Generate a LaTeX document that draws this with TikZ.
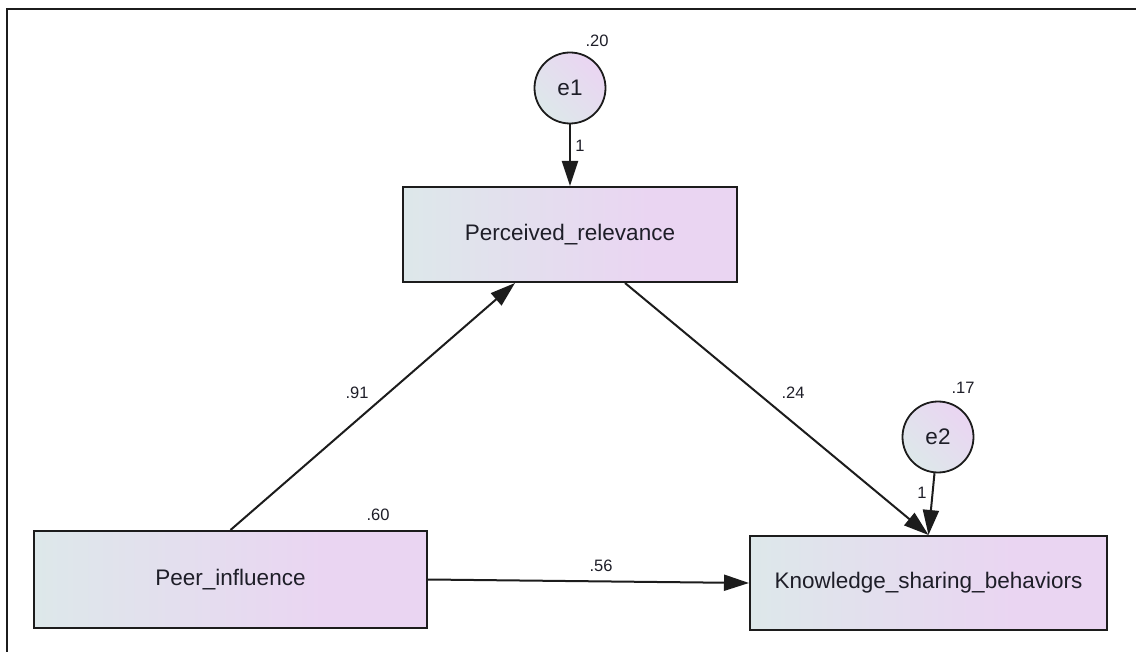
\documentclass[tikz,border=0pt]{standalone}
\usepackage{fontspec}
\setmainfont{Liberation Sans}
\usetikzlibrary{arrows.meta}

\definecolor{shadeL}{RGB}{221,232,234}
\definecolor{shadeR}{RGB}{234,213,242}
\definecolor{inkline}{RGB}{28,28,28}
\definecolor{inktext}{RGB}{30,30,40}

% light blue-grey on the left fading into lavender
\pgfdeclarehorizontalshading{varshade}{100bp}{color(0bp)=(shadeL); color(25bp)=(shadeL); color(62bp)=(shadeR); color(100bp)=(shadeR)}

\tikzset{
  observed/.style={draw=inkline, line width=2pt, shading=varshade,
    rectangle, inner sep=0pt, font=\fontsize{22.5}{26}\selectfont, text=inktext},
  errvar/.style={draw=inkline, line width=1.8pt, circle, inner sep=0pt,
    minimum size=71pt, left color=shadeL, right color=shadeR, shading angle=135,
    font=\fontsize{22.5}{26}\selectfont, text=inktext},
  path/.style={draw=inkline, line width=2pt,
    -{Triangle[length=25pt,width=16pt]}},
  estimate/.style={font=\fontsize{16.5}{19}\selectfont, text=inktext, inner sep=0pt},
}

\begin{document}
\begin{tikzpicture}[x=1pt, y=-1pt]
\useasboundingbox (0,0) rectangle (1136,652);

% frame
\draw[line width=1.6pt, inkline] (1136,9) -- (7,9) -- (7,652);

% observed variables
\node[observed, minimum width=334pt, minimum height=95pt] (PR) at (570,234.5) {Perceived\_relevance};
\node[observed, minimum width=393pt, minimum height=97pt] (PI) at (230.5,579.5) {Peer\_influence};
\node[observed, minimum width=357pt, minimum height=94pt] (KSB) at (928.5,583) {Knowledge\_sharing\_behaviors};

% error terms
\node[errvar] (e1) at (570,88) {e1};
\node[errvar] (e2) at (938,437) {e2};

% regression paths
\draw[path] (e1.south) -- (e1.south |- PR.north);
\draw[path] (e2) -- (KSB.north);
\draw[path] (PI.north) -- ([xshift=-55pt]PR.south);
\draw[path] ([xshift=55pt]PR.south) -- (KSB.north);
\draw[path] (PI.east) -- (KSB.west);

% estimates
\node[estimate] (v1) at (597,41) {.20};
\node[estimate] (v2) at (963,388) {.17};
\node[estimate] (v3) at (378,515) {.60};
\node[estimate] (w1) at (580,146) {1};
\node[estimate] (w2) at (922,493) {1};
\node[estimate] (b1) at (357,393) {.91};
\node[estimate] (b2) at (793,393) {.24};
\node[estimate] (b3) at (601,566) {.56};
\end{tikzpicture}
\end{document}
